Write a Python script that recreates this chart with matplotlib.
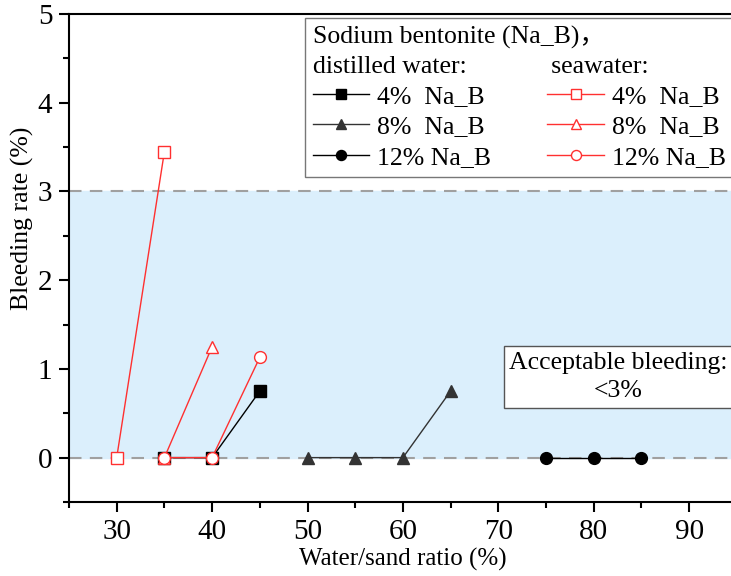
import numpy as np
import matplotlib.pyplot as plt
from matplotlib.ticker import MultipleLocator

plt.rcParams['font.family'] = ['Liberation Serif', 'Noto Sans CJK SC']
plt.rcParams['mathtext.fontset'] = 'stix'

# distilled water series
dw_4_x = [35, 40, 45]
dw_4_y = [0, 0, 0.75]
dw_8_x = [50, 55, 60, 65]
dw_8_y = [0, 0, 0, 0.75]
dw_12_x = [75, 80, 85]
dw_12_y = [0, 0, 0]

# seawater series
sw_4_x = [30, 35]
sw_4_y = [0, 3.45]
sw_8_x = [35, 40]
sw_8_y = [0, 1.25]
sw_12_x = [35, 40, 45]
sw_12_y = [0, 0, 1.13]

limit = 3

fig = plt.figure(figsize=(7.31, 5.76), dpi=100)
ax = fig.add_axes([0.0944, 0.1285, 1.008 - 0.0944, 0.9757 - 0.1285])

ax.axhspan(0, limit, color='#dbeffc', zorder=0)
ax.axhline(0, color='#a0a0a0', ls=(0, (6, 4)), lw=1.5, zorder=1)
ax.axhline(limit, color='#a0a0a0', ls=(0, (6, 4)), lw=1.5, zorder=1)

red = '#ff3030'
l1, = ax.plot(dw_4_x, dw_4_y, color='black', lw=1, marker='s', ms=8, zorder=3)
l2, = ax.plot(dw_8_x, dw_8_y, color='#333333', lw=1, marker='^', ms=9, zorder=3)
l3, = ax.plot(dw_12_x, dw_12_y, color='black', lw=1, marker='o', ms=8.5, zorder=3)
s1, = ax.plot(sw_4_x, sw_4_y, color=red, lw=1, marker='s', ms=8, mfc='white', mec=red, zorder=4)
s2, = ax.plot(sw_8_x, sw_8_y, color=red, lw=1, marker='^', ms=9, mfc='white', mec=red, zorder=4)
s3, = ax.plot(sw_12_x, sw_12_y, color=red, lw=1, marker='o', ms=8.5, mfc='white', mec=red, zorder=4)

ax.set_xlim(25, 95)
ax.set_ylim(-0.5, 5)
ax.xaxis.set_major_locator(MultipleLocator(10))
ax.xaxis.set_minor_locator(MultipleLocator(5))
ax.yaxis.set_major_locator(MultipleLocator(1))
ax.yaxis.set_minor_locator(MultipleLocator(0.5))
ax.tick_params(which='major', direction='out', length=7, width=1.5, labelsize=21, pad=5)
ax.tick_params(which='minor', direction='out', length=4, width=1.5)
ax.spines['right'].set_visible(False)
for s in ['left', 'bottom', 'top']:
    ax.spines[s].set_linewidth(1.5)

ax.set_xlabel('Water/sand ratio (%)', fontsize=18, labelpad=2)
ax.set_ylabel('Bleeding rate (%)', fontsize=18.5)
ax.yaxis.set_label_coords(-0.052, 0.582)

leg = ax.legend([l1, l2, l3, s1, s2, s3],
                ['4%  Na_B', '8%  Na_B', '12% Na_B', '4%  Na_B', '8%  Na_B', '12% Na_B'],
                ncol=2, loc='upper left', bbox_to_anchor=(0.3533, 0.9918),
                fontsize=18.5, frameon=True, fancybox=False,
                edgecolor='#555555', handlelength=2.2, handletextpad=0.3, columnspacing=2.2,
                labelspacing=0.29, borderaxespad=0, borderpad=0.3, markerscale=0.85,
                title='Sodium bentonite (Na_B)，\ndistilled water:' + ' ' * 13 + 'seawater:',
                title_fontsize=18.5, alignment='left')
leg.get_frame().set_linewidth(1)
leg.get_title().set_linespacing(1.4)

ax.text(82.6, 0.91, 'Acceptable bleeding:\n<3%', fontsize=18.5, ha='center', va='center',
        linespacing=1.35, zorder=5,
        bbox=dict(boxstyle='square,pad=0.22', fc='white', ec='#555555', lw=1))

fig.savefig('out.png', dpi=100)
